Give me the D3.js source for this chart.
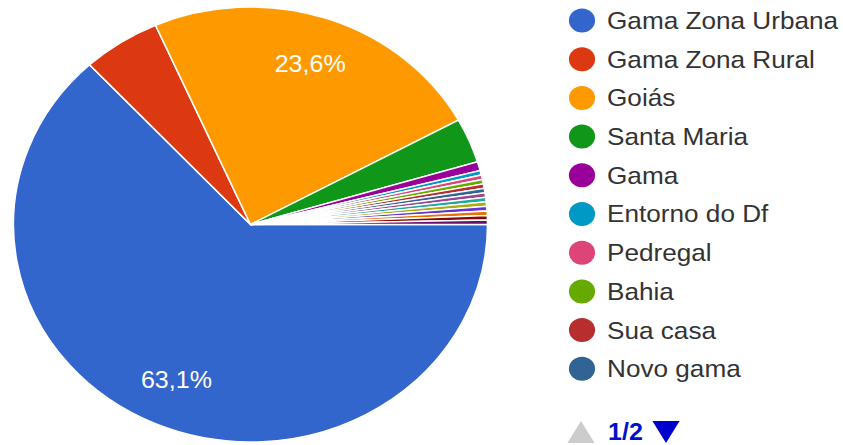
<!DOCTYPE html>
<html>
<head>
<meta charset="utf-8">
<script src="https://cdn.jsdelivr.net/npm/d3@7"></script>
<style>
  html, body { margin: 0; padding: 0; background: #fff; }
  svg { display: block; }
</style>
</head>
<body>
<svg id="chart" width="843" height="445"></svg>
<script>
// Places named in the legend (page 1 of 2)
const categories = [
  "Gama Zona Urbana", "Gama Zona Rural", "Goiás", "Santa Maria", "Gama",
  "Entorno do Df", "Pedregal", "Bahia", "Sua casa", "Novo gama"
];
// Responses per place, in legend order; the last seven are on the legend's second page
const counts = [190, 16, 71, 10, 2, 1, 1, 1, 1, 1, 1, 1, 1, 1, 1, 1, 1];
const colors = [
  "#3366cc", "#dc3912", "#ff9900", "#109618", "#990099",
  "#0099c6", "#dd4477", "#66aa00", "#b82e2e", "#316395",
  "#994499", "#22aa99", "#aaaa11", "#6633cc", "#e67300", "#8b0707", "#651067"
];
const pageLabel = "1/2";

const sx = 1.09;               // chart is drawn slightly wider than tall
const svg = d3.select("#chart");
const root = svg.append("g").attr("transform", `scale(${sx},1)`);

// ---- pie ----
const cx = 250.5 / sx, cy = 224.5, R = 217.5;
const total = d3.sum(counts);
const pie = d3.pie().sort(null).value(d => d)
  .startAngle(Math.PI / 2).endAngle(Math.PI / 2 + 2 * Math.PI);
const arcs = pie(counts);
const arc = d3.arc().innerRadius(0).outerRadius(R);
const labelArc = d3.arc().innerRadius(R * 0.78).outerRadius(R * 0.78);

const g = root.append("g").attr("transform", `translate(${cx},${cy})`);
g.selectAll("path.slice").data(arcs).join("path")
  .attr("class", "slice")
  .attr("d", arc)
  .attr("fill", (d, i) => colors[i])
  .attr("stroke", "#fff")
  .attr("stroke-width", 1.5);

const pct = v => d3.format(".1f")(v * 100).replace(".", ",") + "%";
g.selectAll("text.pct").data(arcs.filter(d => d.data / total >= 0.1)).join("text")
  .attr("class", "pct")
  .attr("transform", d => `translate(${labelArc.centroid(d)})`)
  .attr("text-anchor", "middle")
  .attr("dy", "0.35em")
  .attr("fill", "#ffffff")
  .attr("font-family", "Liberation Sans, Arial, sans-serif")
  .attr("font-size", 23)
  .text(d => pct(d.data / total));

// ---- legend ----
const legX = 582 / sx, legY0 = 20.5, legStep = 38.7;
const leg = root.append("g");
const rows = leg.selectAll("g.row").data(categories).join("g")
  .attr("class", "row")
  .attr("transform", (d, i) => `translate(${legX},${legY0 + i * legStep})`);
rows.append("circle").attr("r", 12).attr("fill", (d, i) => colors[i]);
rows.append("text")
  .attr("x", (607 - 582) / sx)
  .attr("dy", "0.35em")
  .attr("fill", "#333")
  .attr("font-family", "Liberation Sans, Arial, sans-serif")
  .attr("font-size", 24)
  .text(d => d);

// ---- paging control ----
const navY = 432;
const nav = root.append("g");
const upX = 581 / sx, downX = 666 / sx;
nav.append("path")
  .attr("d", `M${upX - 12.5},${navY + 11} L${upX + 12.5},${navY + 11} L${upX},${navY - 11} Z`)
  .attr("fill", "#cccccc");
nav.append("text")
  .attr("x", 608 / sx).attr("y", navY).attr("dy", "0.35em")
  .attr("fill", "#0011cc")
  .attr("font-family", "Liberation Sans, Arial, sans-serif")
  .attr("font-size", 23)
  .attr("font-weight", "bold")
  .text(pageLabel);
nav.append("path")
  .attr("d", `M${downX - 12.5},${navY - 11} L${downX + 12.5},${navY - 11} L${downX},${navY + 11} Z`)
  .attr("fill", "#0000cc");
</script>
</body>
</html>
